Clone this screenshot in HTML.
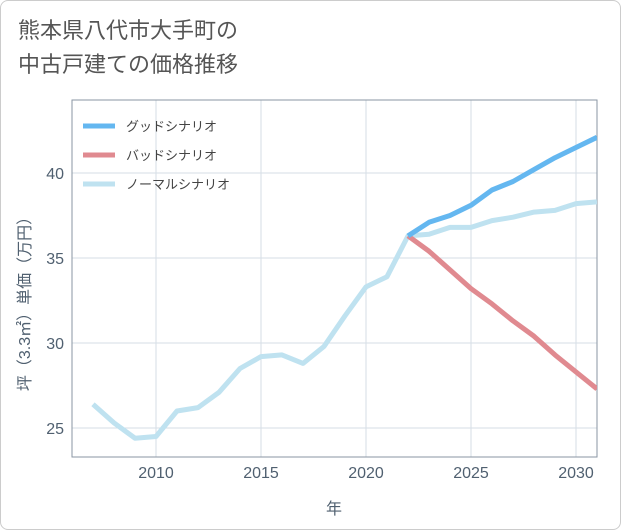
<!DOCTYPE html>
<html><head><meta charset="utf-8"><style>
body{margin:0;background:#fff;font-family:"Liberation Sans","Noto Sans CJK JP",sans-serif;}
.card{position:absolute;left:0;top:0;width:619px;height:528px;border:1px solid #ccc;border-radius:8px;background:#fff;}
.title{position:absolute;left:18px;top:14px;font-size:22px;line-height:34px;color:#555;}
svg{position:absolute;left:0;top:0;}
</style></head><body>
<div class="card"></div>
<div class="title">熊本県八代市大手町の<br>中古戸建ての価格推移</div>
<svg width="621" height="530" id="chart"></svg>
<script>
const years=[2007,2008,2009,2010,2011,2012,2013,2014,2015,2016,2017,2018,2019,2020,2021,2022,2023,2024,2025,2026,2027,2028,2029,2030,2031];
const normal=[26.4,25.3,24.4,24.5,26.0,26.2,27.1,28.5,29.2,29.3,28.8,29.8,31.6,33.3,33.9,36.3,36.4,36.8,36.8,37.2,37.4,37.7,37.8,38.2,38.3];
const futureYears=[2022,2023,2024,2025,2026,2027,2028,2029,2030,2031];
const good=[36.3,37.1,37.5,38.1,39.0,39.5,40.2,40.9,41.5,42.1];
const bad=[36.3,35.4,34.3,33.2,32.3,31.3,30.4,29.3,28.3,27.3];
const xTicks=[2010,2015,2020,2025,2030];
const yTicks=[25,30,35,40];
const X0=72,X1=597,Y0=100,Y1=457;
const x=v=>156+(v-2010)*21;
const y=v=>173-(v-40)*17;
const svg=document.getElementById('chart');
const NS='http://www.w3.org/2000/svg';
function mk(t,a){const e=document.createElementNS(NS,t);for(const k in a)e.setAttribute(k,a[k]);svg.appendChild(e);return e;}
xTicks.forEach(t=>{
 const l=mk('line',{x1:x(t),x2:x(t),y1:Y0,y2:Y1,stroke:'#d5dde5'});
 
 
 const tx=mk('text',{x:x(t),y:478,'text-anchor':'middle','font-size':16,fill:'#506070'});tx.textContent=t;
 
 
});
yTicks.forEach(t=>{
 const l=mk('line',{x1:X0,x2:X1,y1:y(t),y2:y(t),stroke:'#d5dde5'});
 
 
 const tx=mk('text',{x:64,y:y(t)+6,'text-anchor':'end','font-size':16,fill:'#506070'});tx.textContent=t;
 
 
});
const frame=mk('rect',{x:X0,y:Y0,width:X1-X0,height:Y1-Y0,fill:'none',stroke:'#8a96a3'});


const clip=mk('clipPath',{id:'c'});const cr=document.createElementNS(NS,'rect');
cr.setAttribute('x',X0);cr.setAttribute('y',Y0);cr.setAttribute('width',X1-X0);cr.setAttribute('height',Y1-Y0);clip.appendChild(cr);
function line(xs,vs,color,name){
 const p=mk('polyline',{points:xs.map((t,i)=>x(t)+','+y(vs[i])).join(' '),fill:'none',stroke:color,'stroke-width':5,'stroke-linejoin':'round','clip-path':'url(#c)'});
 
 
}
line(years,normal,'#bfe2f0','normal-scenario-line');
line(futureYears,bad,'#e08a90','bad-scenario-line');
line(futureYears,good,'#64b7f0','good-scenario-line');
const leg=[['グッドシナリオ','#64b7f0'],['バッドシナリオ','#e08a90'],['ノーマルシナリオ','#bfe2f0']];
leg.forEach((d,i)=>{
 const yy=126+i*29;
 const l=mk('line',{x1:83,x2:115,y1:yy,y2:yy,stroke:d[1],'stroke-width':5});
 
 
 const t=mk('text',{x:126,y:yy+5,'font-size':13,fill:'#444'});t.textContent=d[0];
 
 
});
const xt=mk('text',{x:334,y:514,'text-anchor':'middle','font-size':16,fill:'#506070'});xt.textContent='年';


const yt=mk('text',{x:0,y:0,'text-anchor':'middle','font-size':16,fill:'#506070',transform:'translate(30,300) rotate(-90)'});yt.textContent='坪（3.3㎡）単価（万円）';


</script>
</body></html>
